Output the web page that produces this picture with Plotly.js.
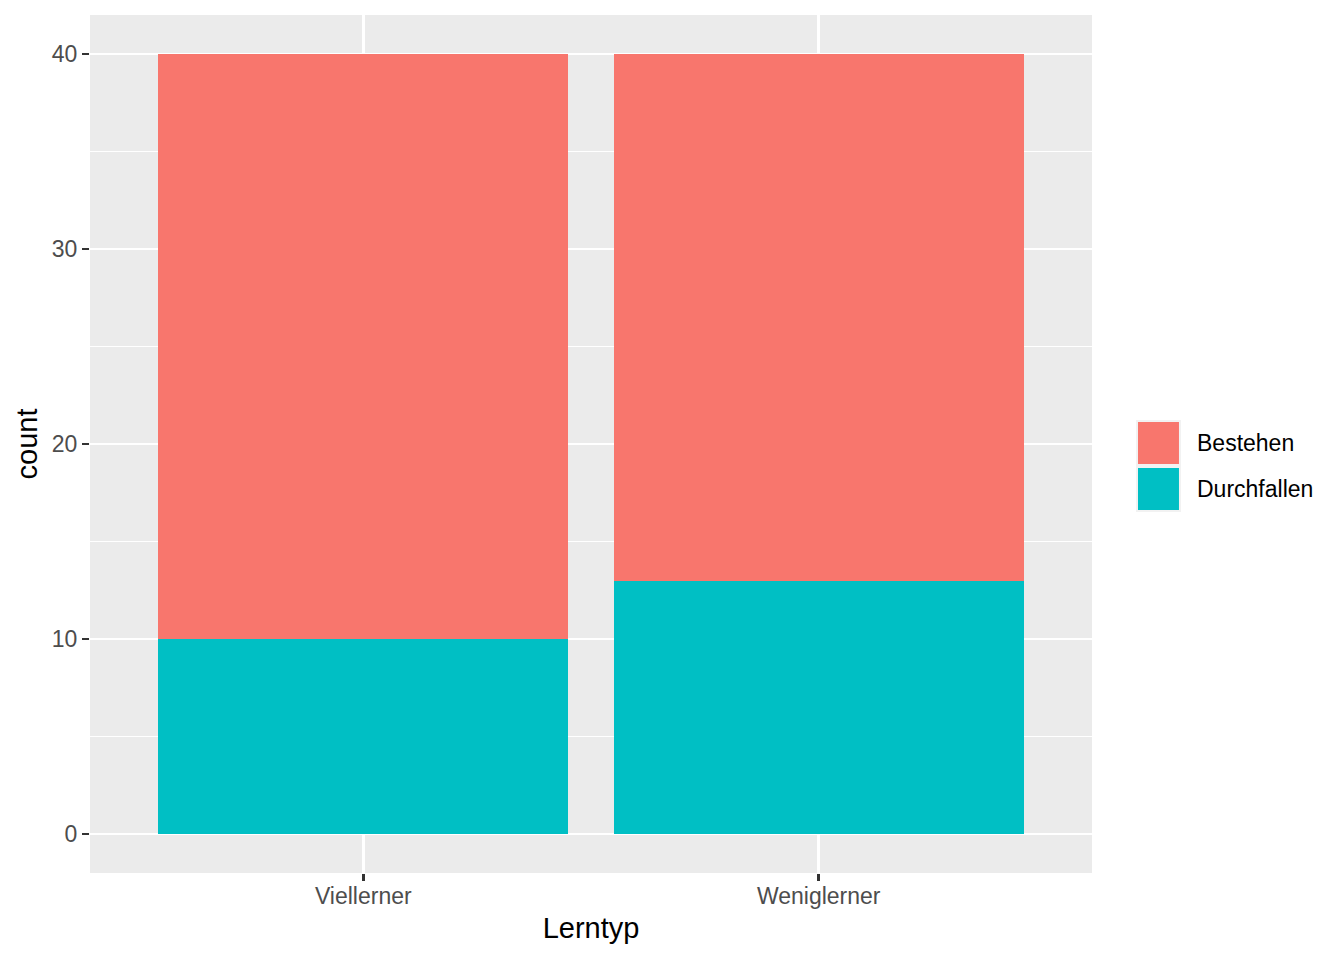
<!DOCTYPE html>
<html>
<head>
<meta charset="utf-8">
<script src="https://cdn.plot.ly/plotly-3.0.1.min.js"></script>
<style>
  html, body { margin: 0; padding: 0; background: #fff; }
  #myDiv { width: 1344px; height: 960px; }
</style>
</head>
<body>
<div id="myDiv"></div>
<script>
var lerntyp = ["Viellerner", "Weniglerner"];
var durchfallen = [10, 13];
var bestehen = [30, 27];
var groups = ["Bestehen", "Durchfallen"];
var colors = ["#F8766D", "#00BFC4"];

var trDurch = {
  x: lerntyp,
  y: durchfallen,
  name: groups[1],
  type: 'bar',
  marker: { color: colors[1] },
  hoverinfo: 'skip'
};

var trBest = {
  x: lerntyp,
  y: bestehen,
  name: groups[0],
  type: 'bar',
  marker: { color: colors[0] },
  hoverinfo: 'skip'
};

var data = [trDurch, trBest];

// hand-made legend, ggplot style keys
var keyX0 = 1.0449, keyX1 = 1.0878;
var keyY = [[0.4755, 0.5268], [0.4219, 0.4732]];
var shapes = [], annotations = [];
for (var i = 0; i < groups.length; i++) {
  shapes.push({
    type: 'rect', xref: 'paper', yref: 'paper',
    x0: keyX0, x1: keyX1, y0: keyY[i][0], y1: keyY[i][1],
    fillcolor: colors[i], line: { color: '#f2f2f2', width: 2 }
  });
  annotations.push({
    xref: 'paper', yref: 'paper', x: 1.1028, y: (keyY[i][0] + keyY[i][1]) / 2,
    xanchor: 'left', yanchor: 'middle', showarrow: false,
    text: groups[i],
    font: { family: 'Liberation Sans, Arial, sans-serif', size: 23, color: '#000' }
  });
}

var layout = {
  width: 1344,
  height: 960,
  barmode: 'stack',
  bargap: 0.1,
  showlegend: false,
  paper_bgcolor: '#ffffff',
  plot_bgcolor: '#EBEBEB',
  margin: { l: 90, r: 252, t: 15, b: 87 },
  font: { family: 'Liberation Sans, Arial, sans-serif' },
  xaxis: {
    range: [-0.6, 1.6],
    showgrid: true,
    gridcolor: '#ffffff',
    gridwidth: 2.5,
    zeroline: false,
    showline: false,
    ticks: 'outside',
    ticklen: 7,
    tickwidth: 2.5,
    tickcolor: '#333333',
    ticklabelstandoff: -5,
    tickfont: { size: 23, color: '#4D4D4D' },
    title: {
      text: 'Lerntyp',
      font: { size: 29, color: '#000' },
      standoff: 10
    }
  },
  yaxis: {
    range: [-2, 42],
    dtick: 10,
    tick0: 0,
    showgrid: true,
    gridcolor: '#ffffff',
    gridwidth: 2.5,
    zeroline: false,
    showline: false,
    ticks: 'outside',
    ticklen: 7,
    tickwidth: 2.5,
    tickcolor: '#333333',
    tickfont: { size: 23, color: '#4D4D4D' },
    minor: {
      dtick: 5,
      showgrid: true,
      gridcolor: '#ffffff',
      gridwidth: 1.3,
      ticks: ''
    },
    title: {
      text: 'count',
      font: { size: 29, color: '#000' },
      standoff: 5
    }
  },
  shapes: shapes,
  annotations: annotations
};

Plotly.newPlot('myDiv', data, layout, { displayModeBar: false, staticPlot: true });
</script>
</body>
</html>
